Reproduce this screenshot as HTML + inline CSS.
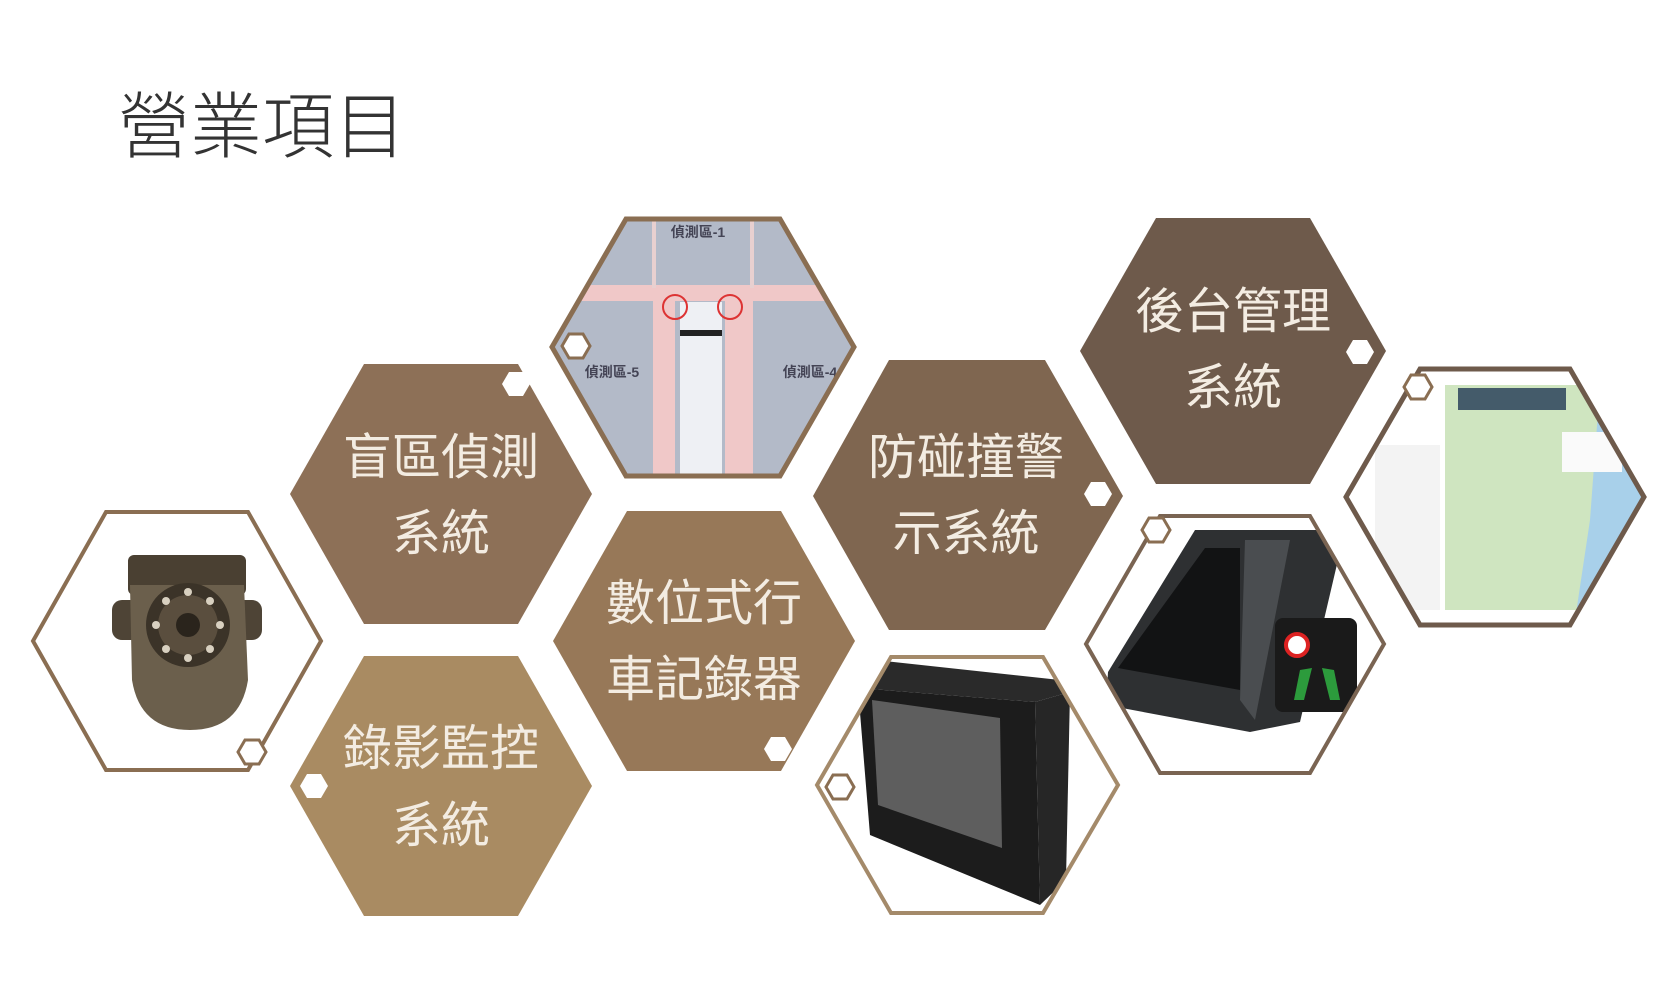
<!DOCTYPE html>
<html><head><meta charset="utf-8"><style>
html,body{margin:0;padding:0;background:#fff;}
svg{display:block;}
.t{font-family:"Liberation Sans","Noto Sans CJK TC",sans-serif;fill:#f3ece2;font-size:49px;text-anchor:middle;}
</style></head><body>
<svg width="1666" height="984" viewBox="0 0 1666 984" xmlns="http://www.w3.org/2000/svg">
<defs>
<clipPath id="c1"><polygon points="33,641 106,512 248,512 321,641 248,770 106,770"/></clipPath>
<clipPath id="c4"><polygon points="552,347 626,219 780,219 854,347 780,476 626,476"/></clipPath>
<clipPath id="c7"><polygon points="817,785 891,657 1043,657 1118,785 1043,913 891,913"/></clipPath>
<clipPath id="c9"><polygon points="1086,644 1160,516 1310,516 1384,644 1310,773 1160,773"/></clipPath>
<clipPath id="c10"><polygon points="1346,497 1420,369 1570,369 1644,497 1570,625 1420,625"/></clipPath>
</defs>
<text x="118" y="152" font-family="Liberation Sans,'Noto Sans CJK TC',sans-serif" font-size="72" fill="#333" font-weight="300">營業項目</text>

<polygon points="290,494 364,364 518,364 592,494 518,624 364,624" fill="#8d7057"/>
<polygon points="290,786 364,656 518,656 592,786 518,916 364,916" fill="#a98b62"/>
<polygon points="553,641 627,511 781,511 855,641 781,771 627,771" fill="#977858"/>
<polygon points="813,496 889,360 1045,360 1123,496 1045,630 889,630" fill="#7f6650"/>
<polygon points="1080,351 1156,218 1310,218 1386,351 1310,484 1156,484" fill="#6e5a4b"/>

<g clip-path="url(#c1)"><rect x="0" y="500" width="340" height="280" fill="#fff"/>
<rect x="128" y="555" width="118" height="40" rx="6" fill="#4a4032"/>
<rect x="112" y="600" width="150" height="40" rx="10" fill="#4e4436"/>
<path d="M130,585 L244,585 L248,680 Q240,730 190,730 Q140,730 132,680 Z" fill="#6b5f4c"/>
<circle cx="188" cy="625" r="42" fill="#3b3328"/>
<circle cx="188" cy="625" r="30" fill="#5a4e3e"/>
<g fill="#d8d0c0"><circle cx="188" cy="592" r="4"/><circle cx="210" cy="601" r="4"/><circle cx="220" cy="625" r="4"/><circle cx="210" cy="649" r="4"/><circle cx="188" cy="658" r="4"/><circle cx="166" cy="649" r="4"/><circle cx="156" cy="625" r="4"/><circle cx="166" cy="601" r="4"/></g>
<circle cx="188" cy="625" r="12" fill="#2a241c"/>
</g>
<polygon points="33,641 106,512 248,512 321,641 248,770 106,770" fill="none" stroke="#8a6e52" stroke-width="4"/>

<g clip-path="url(#c4)"><rect x="540" y="210" width="330" height="280" fill="#b3bac8"/>
<rect x="540" y="285" width="330" height="16" fill="#f0c8c8"/>
<rect x="653" y="285" width="22" height="200" fill="#f0c8c8"/>
<rect x="725" y="285" width="28" height="200" fill="#f0c8c8"/>
<rect x="652" y="210" width="4" height="78" fill="#e8d0d0"/>
<rect x="750" y="210" width="4" height="78" fill="#e8d0d0"/>
<rect x="680" y="302" width="42" height="190" fill="#eef0f4"/>
<rect x="680" y="330" width="42" height="6" fill="#222"/>
<circle cx="675" cy="307" r="12" fill="none" stroke="#d33" stroke-width="2"/>
<circle cx="730" cy="307" r="12" fill="none" stroke="#d33" stroke-width="2"/>
<text x="698" y="237" font-size="14" font-weight="bold" fill="#445" text-anchor="middle" font-family="Liberation Sans,'Noto Sans CJK TC',sans-serif">偵測區-1</text>
<text x="612" y="377" font-size="14" font-weight="bold" fill="#445" text-anchor="middle" font-family="Liberation Sans,'Noto Sans CJK TC',sans-serif">偵測區-5</text>
<text x="810" y="377" font-size="14" font-weight="bold" fill="#445" text-anchor="middle" font-family="Liberation Sans,'Noto Sans CJK TC',sans-serif">偵測區-4</text>
</g>
<polygon points="552,347 626,219 780,219 854,347 780,476 626,476" fill="none" stroke="#8a6e52" stroke-width="5"/>

<g clip-path="url(#c7)"><rect x="810" y="650" width="320" height="270" fill="#fff"/>
<polygon points="875,660 1060,680 1070,692 1035,702 858,688" fill="#2a2a2a"/>
<polygon points="858,688 1035,702 1040,905 870,835" fill="#1c1c1c"/>
<polygon points="1035,702 1070,692 1066,880 1040,905" fill="#262626"/>
<polygon points="872,700 1000,718 1002,848 878,805" fill="#5e5e5e"/>
</g>
<polygon points="817,785 891,657 1043,657 1118,785 1043,913 891,913" fill="none" stroke="#a48a6a" stroke-width="4"/>

<g clip-path="url(#c9)"><rect x="1080" y="510" width="310" height="270" fill="#fff"/>
<polygon points="1108,672 1195,530 1320,530 1338,560 1300,722 1250,732 1106,705" fill="#2e3032"/>
<polygon points="1118,668 1205,548 1240,548 1240,690" fill="#121314"/>
<polygon points="1245,540 1290,540 1255,720 1240,700" fill="#4a4d50"/>
<rect x="1275" y="618" width="82" height="94" rx="8" fill="#1a1a1a"/>
<circle cx="1297" cy="645" r="11" fill="#fff" stroke="#d22" stroke-width="4"/>
<polygon points="1300,670 1312,668 1304,700 1294,700" fill="#2c9b3c"/>
<polygon points="1322,668 1334,670 1340,700 1330,700" fill="#2c9b3c"/>
</g>
<polygon points="1086,644 1160,516 1310,516 1384,644 1310,773 1160,773" fill="none" stroke="#7a6452" stroke-width="4"/>

<g clip-path="url(#c10)"><rect x="1340" y="360" width="310" height="270" fill="#fff"/>
<rect x="1445" y="385" width="180" height="225" fill="#cfe5c0"/>
<polygon points="1600,385 1650,385 1650,620 1575,620 1590,520" fill="#a8d0ea"/>
<rect x="1458" y="388" width="108" height="22" fill="#445b6a"/>
<rect x="1375" y="445" width="65" height="165" fill="#f3f3f3"/>
<rect x="1562" y="432" width="60" height="40" fill="#fafafa"/>
</g>
<polygon points="1346,497 1420,369 1570,369 1644,497 1570,625 1420,625" fill="none" stroke="#6e5a4b" stroke-width="5"/>

<g fill="#fff">
<polygon points="502,384 509,372 523,372 530,384 523,396 509,396"/>
<polygon points="300,786 307,774 321,774 328,786 321,798 307,798"/>
<polygon points="764,749 771,737 785,737 792,749 785,761 771,761"/>
<polygon points="1084,494 1091,482 1105,482 1112,494 1105,506 1091,506"/>
<polygon points="1346,352 1353,340 1367,340 1374,352 1367,364 1353,364"/>
</g>
<g fill="#fff" stroke="#8a6e52" stroke-width="3">
<polygon points="562,346 569,334 583,334 590,346 583,358 569,358"/>
<polygon points="238,752 245,740 259,740 266,752 259,764 245,764"/>
<polygon points="826,787 833,775 847,775 854,787 847,799 833,799"/>
<polygon points="1142,530 1149,518 1163,518 1170,530 1163,542 1149,542"/>
<polygon points="1404,387 1411,375 1425,375 1432,387 1425,399 1411,399"/>
</g>

<text class="t" x="441" y="474">盲區偵測</text>
<text class="t" x="441" y="550">系統</text>
<text class="t" x="441" y="765">錄影監控</text>
<text class="t" x="441" y="842">系統</text>
<text class="t" x="704" y="620">數位式行</text>
<text class="t" x="704" y="696">車記錄器</text>
<text class="t" x="966" y="474">防碰撞警</text>
<text class="t" x="966" y="550">示系統</text>
<text class="t" x="1233" y="328">後台管理</text>
<text class="t" x="1233" y="404">系統</text>
</svg>
</body></html>
